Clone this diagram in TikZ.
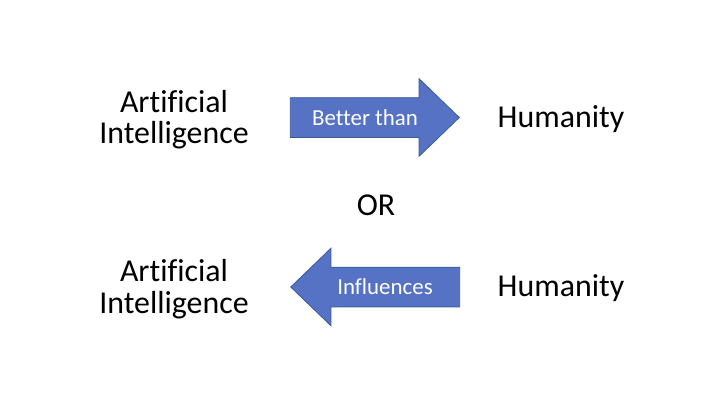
\documentclass[tikz,border=0pt]{standalone}
\usepackage{fontspec}
\setmainfont[Ligatures=NoCommon]{Carlito}
\usetikzlibrary{shapes.arrows}
\definecolor{arrowfill}{HTML}{5572C4}
\definecolor{arrowline}{HTML}{3A5A96}
\tikzset{
    word/.style={align=center,font=\fontsize{32}{31.5}\selectfont,inner sep=0pt},
    blockarrow/.style={single arrow,fill=arrowfill,draw=arrowline,line width=0.75bp,
        minimum height=169bp,inner sep=19.5bp,single arrow head extend=19bp,
        single arrow tip angle=88,single arrow head indent=0pt},
    arrowtext/.style={text=white,font=\fontsize{23}{27}\selectfont,inner sep=0pt}
}
\begin{document}
\begin{tikzpicture}[x=1bp,y=-1bp]
    \useasboundingbox (0,0) rectangle (720,405);
    % Top row %
    \node[word] (ai1) at (174,119.5) {Artificial\\Intelligence};
    \node[word] (hum1) at (561,119) {Humanity};
    \node[blockarrow] (better) at (364.5,117.5) {};
    \node[arrowtext] (bettertext) at (365,118) {Better than};

    \node[word] (or) at (376,205) {OR};

    % Bottom row %
    \node[word] (ai2) at (174,289) {Artificial\\Intelligence};
    \node[word] (hum2) at (561,288) {Humanity};
    \node[blockarrow,shape border rotate=180] (influences) at (385.5,287) {};
    \node[arrowtext] (influencestext) at (385,287) {Influences};
\end{tikzpicture}
\end{document}
